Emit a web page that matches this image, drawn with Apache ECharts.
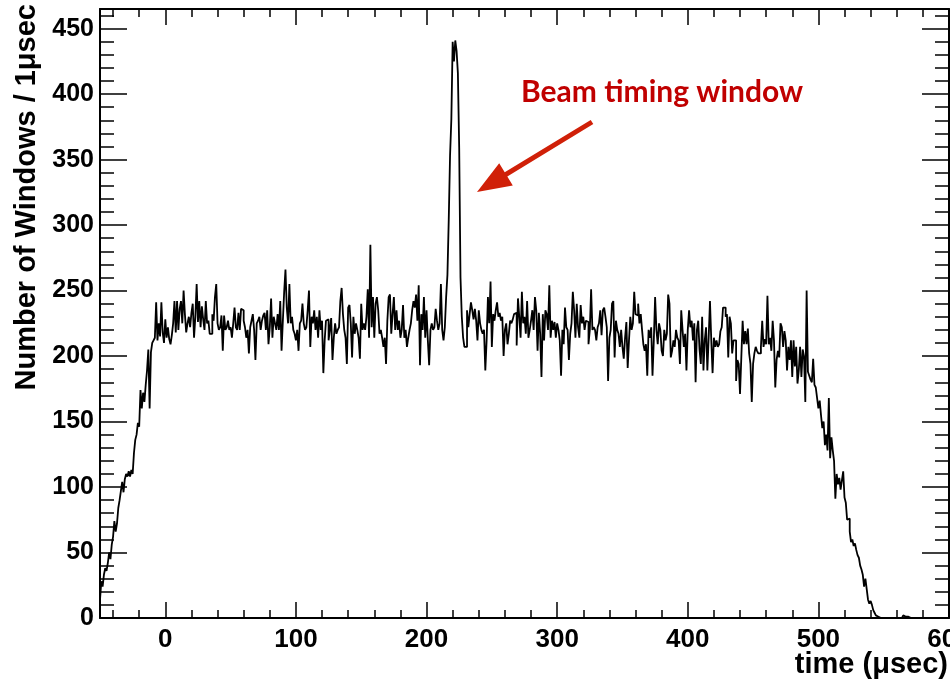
<!DOCTYPE html>
<html>
<head>
<meta charset="utf-8">
<script src="https://cdn.jsdelivr.net/npm/echarts@6/dist/echarts.min.js"></script>
<style>
html,body{margin:0;padding:0;background:#fff;}
#chart{width:950px;height:681px;}
</style>
</head>
<body>
<div id="chart"></div>
<script>
// Histogram: 1 µsec bins starting at -50 µsec
const binStart = -50;
const binWidth = 1;

// t = -50 .. -1
const countsRise = [14,28,24,33,38,36,42,50,45,56, 62,74,66,72,84,90,97,104,96,106,
  110,108,112,108,113,110,126,136,140,149, 146,174,160,172,165,178,189,205,160,203,
  210,212,214,241,212,225,215,241,218,210];
// t = 0 .. 125
const countsEarly = [228,214,222,213,209,216,225,242,218,242, 220,236,242,225,250,232,218,225,230,222,
  233,240,214,230,255,226,242,222,238,228,
  220,242,225,227,217,217,232,227,245,255, 225,220,222,231,204,231,220,222,227,220,
  222,214,225,237,222,220,233,220,236,235, 227,222,214,220,202,222,227,232,220,197,
  225,227,230,220,227,231,233,220,235,209, 222,244,214,230,225,220,232,220,242,204,
  227,249,266,237,225,255,225,230,220,217, 212,220,204,225,227,240,225,220,222,235,
  250,207,230,225,235,220,230,214,235,220, 227,187,212,227,228,212];
// t = 126 .. 215
const countsMid = [220,229,197,214,225,217,220,222,242,252, 232,220,214,194,237,239,225,199,230,217,
  225,220,214,198,240,220,225,220,230,251, 214,285,222,245,214,240,245,235,217,220,
  214,207,214,194,227,245,247,217,232,245, 220,235,220,227,214,220,239,214,220,207,
  214,220,225,235,242,237,247,227,254,193, 232,220,245,214,235,212,193,220,225,220,
  222,236,227,220,225,255,220,212,222,245];
// t = 216 .. 230 (beam timing window)
const countsPeak = [262,304,353,381,440,425,441,433,416,359,260,230,214,207,207];
// t = 231 .. 408
const countsLate = [235,222,232,241,235,228,236,227,212,235, 225,220,217,220,189,212,245,225,257,207,
  232,227,235,241,230,233,227,230,200,220, 225,209,217,227,225,228,232,233,208,244,
  230,214,249,225,230,217,242,214,220,227, 235,220,245,235,204,233,217,184,232,212,
  235,232,220,254,214,227,220,226,214,225, 220,212,185,220,209,237,222,220,197,217,
  225,249,235,214,240,222,
  214,239,225,230,220,227,226,209,220,251, 220,222,220,212,222,225,235,216,235,237,
  230,222,181,214,220,240,242,199,227,220, 217,207,220,207,198,214,226,191,212,230,
  220,225,249,232,231,240,225,232,220,209, 204,209,185,220,214,222,185,212,245,220,
  209,225,220,204,200,220,212,217,247,240, 199,204,212,207,220,214,212,194,235,220,
  207,217,189,220,235,222,227,212,225,180, 220,227];
// t = 409 .. 487
const countsLatePlateau = [205,194,230,189,212,222,189,214,242,212, 187,214,207,212,207,209,219,222,237,237,
  230,232,199,230,225,202,212,212,181,197, 194,171,199,227,209,219,209,221,202,194,
  165,194,202,207,204,202,202,207,227,207, 213,209,246,209,214,204,227,212,176,197,
  204,199,225,222,207,219,212,189,207,197, 212,184,212,192,207,179,189,207,184];
// t = 488 .. 545
const countsFall = [205,200,165,250,188,185,182,180,198,178, 176,168,160,166,155,145,150,132,140,128,
  168,122,138,128,120,91,110,102,107,98, 105,112,92,88,75,76,66,58,60,55,
  57,52,48,46,40,37,33,24,30,22, 14,11,13,10,6,4,2,1];
// t = 546 .. 599
const countsTail = [0,0,0,0,1,0,0,0,0,0, 1,0,0,0,0,0,0,0,1,2, 1,0,1,0,0,0,0,0,0,0,
  0,0,0,0,0,0,0,0,0,0, 0,1,0,0,0,0,0,0,0,0, 0,0,0,0];

// Axis ticks
const xMajorTicks = [0,100,200,300,400,500,600];
const xMinorTicks = [-40,-20,20,40,60,80,120,140,160,180,220,240,260,280,320,340,360,380,420,440,460,480,520,540,560,580];
const yMajorTicks = [0,50,100,150,200,250,300,350,400,450];
const yMinorTicks = [10,20,30,40,60,70,80,90,110,120,130,140,160,170,180,190,210,220,230,240,260,270,280,290,310,320,330,340,360,370,380,390,410,420,430,440,460];

const xTitle = 'time (\u03bcsec)';
const yTitle = 'Number of Windows / 1\u03bcsec';
const annotationText = 'Beam timing window';

const allCounts = [].concat(countsRise, countsEarly, countsMid, countsPeak, countsLate, countsLatePlateau, countsFall, countsTail);
const histData = allCounts.map((v, i) => [binStart + i * binWidth, v]);
histData.push([binStart + allCounts.length * binWidth, allCounts[allCounts.length - 1]]);

const FONT = '"Liberation Sans", Arial, Helvetica, sans-serif';
const xMin = -50, xMax = 600, yMin = 0, yMax = 465;

function xAx(pos, ticks, len, showLine, showLabel) {
  return {
    type: 'value', position: pos, min: xMin, max: xMax,
    axisLine: { show: showLine, onZero: false, lineStyle: { color: '#000', width: 2 } },
    axisTick: { show: true, inside: true, length: len, customValues: ticks, lineStyle: { color: '#000', width: 1.5 } },
    axisLabel: { show: showLabel, customValues: ticks, color: '#000', fontFamily: FONT, fontWeight: 'bold', fontSize: 26, margin: 9, hideOverlap: false },
    splitLine: { show: false }
  };
}
function yAx(pos, ticks, len, showLine, showLabel) {
  return {
    type: 'value', position: pos, min: yMin, max: yMax,
    axisLine: { show: showLine, onZero: false, lineStyle: { color: '#000', width: 2 } },
    axisTick: { show: true, inside: true, length: len, customValues: ticks, lineStyle: { color: '#000', width: 1.5 } },
    axisLabel: { show: showLabel, customValues: ticks, color: '#000', fontFamily: FONT, fontWeight: 'bold', fontSize: 25, margin: 6 },
    splitLine: { show: false }
  };
}

const chart = echarts.init(document.getElementById('chart'), null, { renderer: 'canvas' });
chart.setOption({
  animation: false,
  backgroundColor: '#fff',
  grid: { left: 100, right: 1, top: 9, bottom: 63, containLabel: false, outerBoundsMode: 'none' },
  xAxis: [
    xAx('bottom', xMajorTicks, 16, true, true),
    xAx('bottom', xMinorTicks, 8, false, false),
    xAx('top', xMajorTicks, 16, true, false),
    xAx('top', xMinorTicks, 8, false, false)
  ],
  yAxis: [
    yAx('left', yMajorTicks, 27, true, true),
    yAx('left', yMinorTicks, 14, false, false),
    yAx('right', yMajorTicks, 27, true, false),
    yAx('right', yMinorTicks, 14, false, false)
  ],
  series: [{
    type: 'line',
    xAxisIndex: 0, yAxisIndex: 0,
    step: 'end',
    data: histData,
    showSymbol: false,
    symbol: 'none',
    clip: true,
    lineStyle: { color: '#000', width: 1.8 }
  }],
  graphic: [
    { type: 'text', x: 948, y: 665, style: { text: xTitle, fill: '#000', font: 'bold 29px ' + FONT, align: 'right', verticalAlign: 'middle' } },
    { type: 'text', x: 27, y: 4, rotation: Math.PI / 2, style: { text: yTitle, fill: '#000', font: 'bold 29px ' + FONT, align: 'right', verticalAlign: 'middle' } },
    { type: 'text', x: 662, y: 92, style: { text: annotationText, fill: '#C00000', font: 'bold 30px Lato, "Open Sans", sans-serif', align: 'center', verticalAlign: 'middle' } },
    { type: 'polygon', shape: { points: [[590.7,119.9],[504.7,172.2],[499.2,163.2],[477,192],[512.8,185.4],[507.3,176.4],[593.3,124.1]] }, style: { fill: '#D02008' } }
  ]
});
</script>
</body>
</html>
